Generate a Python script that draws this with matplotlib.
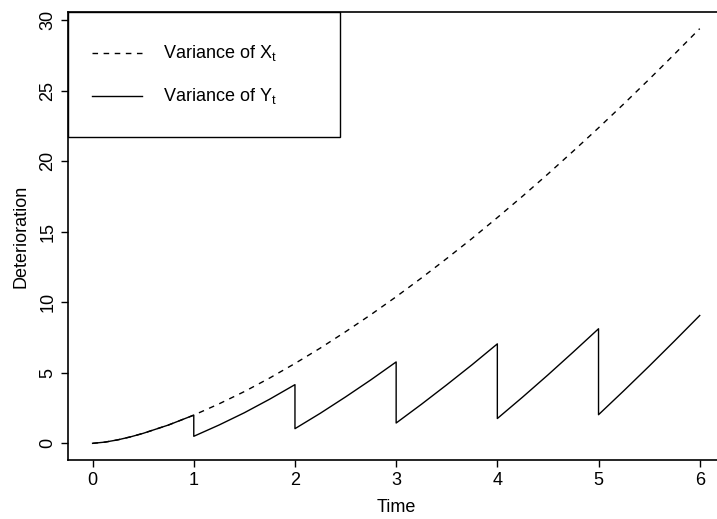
import matplotlib
matplotlib.use("Agg")
import matplotlib.pyplot as plt
from matplotlib.lines import Line2D
from matplotlib.patches import Rectangle

plt.rcParams['font.family'] = ['Liberation Sans', 'DejaVu Sans']
plt.rcParams['mathtext.fontset'] = 'custom'
plt.rcParams['mathtext.rm'] = 'Liberation Sans'

# Variance of X_t
time_x = [0, 0.125, 0.25, 0.375, 0.5, 0.75, 1.0, 1.25, 1.5, 1.75, 2.0, 2.25, 2.5, 2.75, 3.0,
          3.25, 3.5, 3.75, 4.0, 4.25, 4.5, 4.75, 5.0, 5.25, 5.5, 5.75, 6.0]
var_x = [0, 0.09, 0.25, 0.46, 0.71, 1.30, 2.00, 2.80, 3.67, 4.63, 5.66, 6.75, 7.91, 9.12, 10.39,
         11.72, 13.10, 14.52, 16.00, 17.52, 19.09, 20.71, 22.36, 24.06, 25.80, 27.58, 29.39]

# Variance of Y_t (saw-tooth, drops at each maintenance time)
time_y = [0, 0.125, 0.25, 0.375, 0.5, 0.75, 1.0,
          1.0, 1.25, 1.5, 1.75, 2.0,
          2.0, 2.25, 2.5, 2.75, 3.0,
          3.0, 3.25, 3.5, 3.75, 4.0,
          4.0, 4.25, 4.5, 4.75, 5.0,
          5.0, 5.25, 5.5, 5.75, 6.0]
var_y = [0, 0.09, 0.25, 0.46, 0.71, 1.30, 2.00,
         0.50, 1.30, 2.17, 3.13, 4.16,
         1.04, 2.13, 3.29, 4.50, 5.77,
         1.44, 2.77, 4.15, 5.57, 7.05,
         1.76, 3.28, 4.85, 6.47, 8.12,
         2.03, 3.73, 5.47, 7.25, 9.06]

x_ticks = [0, 1, 2, 3, 4, 5, 6]
y_ticks = [0, 5, 10, 15, 20, 25, 30]
legend_labels = [r"Variance of $\mathregular{X_t}$", r"Variance of $\mathregular{Y_t}$"]

FS = 13
W, H = 717, 519
fig = plt.figure(figsize=(W / 100, H / 100), dpi=100)
left_px, right_px, top_px, bottom_px = 68.3, 724.0, 12.0, 460.0
ax = fig.add_axes([left_px / W, 1 - bottom_px / H, (right_px - left_px) / W, (bottom_px - top_px) / H])

ax.plot(time_x, var_x, color='black', lw=1.0, linestyle=(0, (4, 4)))
ax.plot(time_y, var_y, color='black', lw=1.0)

ax.set_xlim(-0.24, 6.24)
ax.set_ylim(-1.18, 30.57)
ax.set_xticks(x_ticks)
ax.set_yticks(y_ticks)
ax.set_xticklabels([str(v) for v in x_ticks])
ax.set_yticklabels([str(v) for v in y_ticks], rotation=90, va='center')
ax.tick_params(axis='both', direction='out', length=5, width=1.0, labelsize=FS, color='black')
ax.tick_params(axis='x', pad=3.5)
ax.tick_params(axis='y', pad=3.5)
for s in ax.spines.values():
    s.set_linewidth(1.2)
    s.set_color('black')

ax.set_xlabel('Time', fontsize=FS, labelpad=7.5)
ax.set_ylabel('Deterioration', fontsize=FS, labelpad=7)

# legend box (top-left, flush with the plot frame)
bx0, bx1 = 68.3 / W, 340 / W
by1, by0 = 1 - 12 / H, 1 - 136.7 / H
fig.patches.append(Rectangle((bx0, by0), bx1 - bx0, by1 - by0, transform=fig.transFigure,
                             fill=False, edgecolor='black', lw=1.0, zorder=5))
rows = [1 - 53.3 / H, 1 - 96 / H]
styles = [(0, (4, 4)), '-']
for yy, st, lab in zip(rows, styles, legend_labels):
    fig.lines.append(Line2D([92 / W, 142 / W], [yy, yy], transform=fig.transFigure,
                            color='black', lw=1.0, linestyle=st))
    fig.text(163 / W, yy, lab, fontsize=FS, va='center', ha='left')

fig.savefig('out.png', dpi=100)
